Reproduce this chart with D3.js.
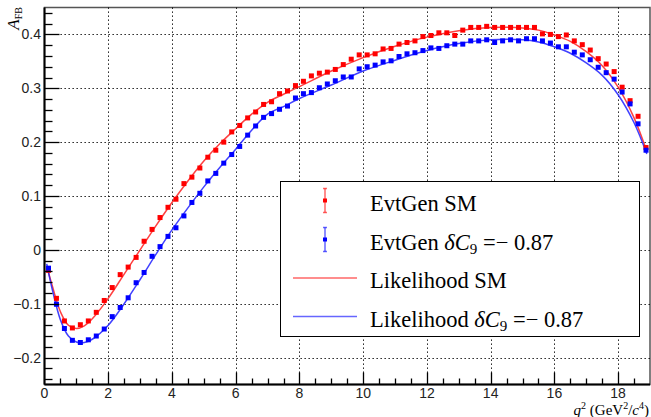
<!DOCTYPE html>
<html>
<head>
<meta charset="utf-8">
<script src="https://cdn.jsdelivr.net/npm/d3@7/dist/d3.min.js"></script>
<style>
  body { margin: 0; background: #fff; }
  svg { display: block; }
</style>
</head>
<body>
<div id="afb-chart"></div>
<script>
// bin centres in q^2 (GeV^2/c^4)
const q2Bins = [0.125, 0.375, 0.625, 0.875, 1.125, 1.375, 1.625, 1.875, 2.125, 2.375,
  2.625, 2.875, 3.125, 3.375, 3.625, 3.875, 4.125, 4.375, 4.625, 4.875,
  5.125, 5.375, 5.625, 5.875, 6.125, 6.375, 6.625, 6.875, 7.125, 7.375,
  7.625, 7.875, 8.125, 8.375, 8.625, 8.875, 9.125, 9.375, 9.625, 9.875,
  10.125, 10.375, 10.625, 10.875, 11.125, 11.375, 11.625, 11.875, 12.125, 12.375,
  12.625, 12.875, 13.125, 13.375, 13.625, 13.875, 14.125, 14.375, 14.625, 14.875,
  15.125, 15.375, 15.625, 15.875, 16.125, 16.375, 16.625, 16.875, 17.125, 17.375,
  17.625, 17.875, 18.125, 18.375, 18.625, 18.875];

// EvtGen SM points
const evtGenSM = [-0.038, -0.090, -0.132, -0.145, -0.139, -0.132, -0.116, -0.094, -0.070, -0.046,
  -0.032, -0.014, 0.016, 0.038, 0.060, 0.079, 0.094, 0.123, 0.135, 0.152,
  0.172, 0.185, 0.200, 0.219, 0.231, 0.245, 0.256, 0.270, 0.275, 0.290,
  0.295, 0.305, 0.313, 0.323, 0.328, 0.330, 0.335, 0.344, 0.354, 0.362,
  0.362, 0.364, 0.373, 0.374, 0.382, 0.385, 0.388, 0.396, 0.398, 0.403,
  0.403, 0.398, 0.408, 0.413, 0.413, 0.415, 0.413, 0.413, 0.413, 0.413,
  0.413, 0.413, 0.401, 0.400, 0.396, 0.399, 0.388, 0.381, 0.371, 0.355,
  0.345, 0.331, 0.302, 0.277, 0.248, 0.190];

// EvtGen dC9 = -0.87 points
const evtGenC9 = [-0.034, -0.101, -0.146, -0.168, -0.172, -0.167, -0.160, -0.147, -0.124, -0.107,
  -0.089, -0.061, -0.042, -0.012, 0.006, 0.025, 0.041, 0.063, 0.088, 0.105,
  0.128, 0.142, 0.161, 0.177, 0.192, 0.213, 0.230, 0.246, 0.253, 0.261,
  0.267, 0.282, 0.290, 0.292, 0.301, 0.308, 0.314, 0.321, 0.321, 0.336,
  0.340, 0.343, 0.349, 0.351, 0.359, 0.364, 0.366, 0.370, 0.375, 0.374,
  0.379, 0.382, 0.382, 0.388, 0.388, 0.390, 0.385, 0.388, 0.390, 0.388,
  0.392, 0.392, 0.388, 0.384, 0.377, 0.377, 0.367, 0.362, 0.353, 0.339,
  0.329, 0.317, 0.293, 0.271, 0.234, 0.185];

// likelihood curves
const likeQ2 = [0.07, 0.25, 0.5, 0.75, 1.0, 1.25, 1.5, 2.0, 2.5, 3.0,
  3.5, 4.0, 4.5, 5.0, 5.5, 6.0, 6.5, 7.0, 7.5, 8.0,
  9.0, 10.0, 11.0, 12.0, 13.0, 14.0, 15.0, 15.5, 16.0, 16.5,
  17.0, 17.5, 18.0, 18.5, 18.9];
const likeSM = [-0.030, -0.068, -0.115, -0.140, -0.146, -0.141, -0.128, -0.090, -0.045, 0.000,
  0.045, 0.088, 0.128, 0.165, 0.197, 0.225, 0.252, 0.274, 0.289, 0.303,
  0.332, 0.357, 0.378, 0.395, 0.407, 0.413, 0.412, 0.408, 0.399, 0.387,
  0.368, 0.342, 0.302, 0.245, 0.183];
const likeC9 = [-0.026, -0.075, -0.130, -0.160, -0.171, -0.172, -0.166, -0.140, -0.100, -0.055,
  -0.008, 0.037, 0.078, 0.117, 0.153, 0.187, 0.222, 0.252, 0.266, 0.281,
  0.306, 0.332, 0.352, 0.370, 0.383, 0.390, 0.390, 0.386, 0.377, 0.365,
  0.347, 0.324, 0.288, 0.236, 0.178];

const xMajor = [2, 4, 6, 8, 10, 12, 14, 16, 18];
const yMajor = [-0.2, -0.1, 0, 0.1, 0.2, 0.3, 0.4];
const xLabels = [0, 2, 4, 6, 8, 10, 12, 14, 16, 18];

const width = 651, height = 417;
const svg = d3.select('#afb-chart').append('svg')
    .attr('width', width).attr('height', height)
    .style('font-family', '"Liberation Sans", Arial, sans-serif');

const x = d3.scaleLinear().domain([0, 19]).range([44.5, 650]);
const y = d3.scaleLinear().domain([-0.25, 0.45]).range([384.5, 7.5]);

// frame
svg.append('rect')
    .attr('x', x(0)).attr('y', y(0.45))
    .attr('width', x(19) - x(0)).attr('height', y(-0.25) - y(0.45))
    .attr('fill', 'none').attr('stroke', '#555').attr('stroke-width', 1.5);

// dotted grid
const grid = svg.append('g').attr('stroke', '#000').attr('stroke-width', 1)
    .attr('stroke-dasharray', '1.3,2.7');
grid.selectAll('.gx').data(xMajor).join('line')
    .attr('x1', d => Math.round(x(d)) + 0.5).attr('x2', d => Math.round(x(d)) + 0.5)
    .attr('y1', y(0.45)).attr('y2', y(-0.25));
grid.selectAll('.gy').data(yMajor).join('line')
    .attr('x1', x(0)).attr('x2', x(19))
    .attr('y1', d => Math.round(y(d)) + 0.5).attr('y2', d => Math.round(y(d)) + 0.5);

// legend box (covers the grid)
const leg = svg.append('g');
leg.append('rect')
    .attr('x', 280.5).attr('y', 181.5).attr('width', 359).attr('height', 155)
    .attr('fill', '#fff').attr('stroke', '#000').attr('stroke-width', 1);

// curves
const line = d3.line()
    .x((d, i) => x(likeQ2[i]))
    .y(d => y(d))
    .curve(d3.curveCatmullRom);
svg.append('path').datum(likeSM)
    .attr('fill', 'none').attr('stroke', '#ff2020').attr('stroke-opacity', 0.85)
    .attr('stroke-width', 1.5).attr('d', line);
svg.append('path').datum(likeC9)
    .attr('fill', 'none').attr('stroke', '#2020ff').attr('stroke-opacity', 0.85)
    .attr('stroke-width', 1.5).attr('d', line);

// points
const ms = 5;
svg.append('g').selectAll('rect').data(evtGenSM).join('rect')
    .attr('x', (d, i) => x(q2Bins[i]) - ms / 2).attr('y', d => y(d) - ms / 2)
    .attr('width', ms).attr('height', ms).attr('fill', '#ff0000');
svg.append('g').selectAll('rect').data(evtGenC9).join('rect')
    .attr('x', (d, i) => x(q2Bins[i]) - ms / 2).attr('y', d => y(d) - ms / 2)
    .attr('width', ms).attr('height', ms).attr('fill', '#0000ff');

// axes (ROOT style ticks inside)
const ax = svg.append('g').attr('stroke', '#000');
ax.append('line').attr('x1', x(0)).attr('x2', x(0)).attr('y1', y(0.45)).attr('y2', y(-0.25))
    .attr('stroke-width', 2);
ax.append('line').attr('x1', x(0)).attr('x2', x(19)).attr('y1', y(-0.25)).attr('y2', y(-0.25))
    .attr('stroke-width', 2);

// y ticks every 0.02, major every 0.1
for (let i = -12; i <= 22; i++) {
    const yy = Math.round(y(i / 50)) + 0.5;
    const len = (i % 5 === 0) ? 15 : 8;
    ax.append('line').attr('x1', x(0)).attr('x2', x(0) + len)
        .attr('y1', yy).attr('y2', yy).attr('stroke-width', 1.3);
}
// x ticks every 0.5, major every 2
for (let i = 1; i <= 37; i++) {
    const xx = Math.round(x(i / 2)) + 0.5;
    const len = (i % 4 === 0) ? 12 : 6;
    ax.append('line').attr('x1', xx).attr('x2', xx)
        .attr('y1', y(-0.25)).attr('y2', y(-0.25) - len).attr('stroke-width', 1.3);
}

const fmtY = d => d3.format('.1f')(d).replace('-', '\u2212');
svg.append('g').selectAll('text').data(yMajor).join('text')
    .attr('x', 41).attr('y', d => y(d)).attr('dy', '0.36em')
    .attr('text-anchor', 'end').attr('font-size', 14).attr('fill', '#222')
    .text(d => d === 0 ? '0' : fmtY(d));
svg.append('g').selectAll('text').data(xLabels).join('text')
    .attr('x', d => x(d)).attr('y', 398)
    .attr('text-anchor', 'middle').attr('font-size', 14).attr('fill', '#222')
    .text(d => d);

// axis titles
const serif = '"Liberation Serif", "Times New Roman", serif';
const yt = svg.append('text')
    .attr('transform', 'translate(19,7) rotate(-90)')
    .attr('text-anchor', 'end').attr('font-family', serif).attr('font-size', 17);
yt.append('tspan').attr('font-style', 'italic').text('A');
yt.append('tspan').attr('font-size', 10).attr('dy', 3).attr('font-family', serif).text('FB');

const xt = svg.append('text')
    .attr('x', 649).attr('y', 415).attr('text-anchor', 'end')
    .attr('font-family', serif).attr('font-size', 15);
xt.append('tspan').attr('font-style', 'italic').text('q');
xt.append('tspan').attr('font-size', 10).attr('dy', -6).text('2');
xt.append('tspan').attr('dy', 6).text(' (GeV');
xt.append('tspan').attr('font-size', 10).attr('dy', -6).text('2');
xt.append('tspan').attr('dy', 6).text('/');
xt.append('tspan').attr('font-style', 'italic').text('c');
xt.append('tspan').attr('font-size', 10).attr('dy', -6).text('4');
xt.append('tspan').attr('dy', 6).text(')');

// legend entries
const legRows = [
    {label: 'EvtGen SM', c9: false, kind: 'pt', color: '#ff0000', y: 200.5},
    {label: 'EvtGen ', c9: true, kind: 'pt', color: '#0000ff', y: 239.5},
    {label: 'Likelihood SM', c9: false, kind: 'ln', color: '#ff0000', y: 278},
    {label: 'Likelihood ', c9: true, kind: 'ln', color: '#0000ff', y: 316.5}
];
legRows.forEach(r => {
    if (r.kind === 'pt') {
        leg.append('line').attr('x1', 325).attr('x2', 325).attr('y1', r.y - 12).attr('y2', r.y + 12)
            .attr('stroke', r.color).attr('stroke-opacity', 0.6).attr('stroke-width', 1.5);
        [-12, 12].forEach(o => leg.append('line')
            .attr('x1', 323).attr('x2', 327).attr('y1', r.y + o).attr('y2', r.y + o)
            .attr('stroke', r.color).attr('stroke-opacity', 0.6).attr('stroke-width', 1.5));
        leg.append('rect').attr('x', 323).attr('y', r.y - 2).attr('width', 4).attr('height', 4)
            .attr('fill', r.color);
    } else {
        leg.append('line').attr('x1', 293).attr('x2', 357).attr('y1', r.y).attr('y2', r.y)
            .attr('stroke', r.color).attr('stroke-opacity', 0.6).attr('stroke-width', 1.5);
    }
    const t = leg.append('text').attr('x', 370).attr('y', r.y + 10)
        .attr('font-family', serif).attr('font-size', 22.5).attr('fill', '#000');
    t.append('tspan').text(r.label);
    if (r.c9) {
        t.append('tspan').attr('font-style', 'italic').text('\u03b4C');
        t.append('tspan').attr('font-size', 15).attr('dy', 4).text('9');
        t.append('tspan').attr('dy', -4).text(' =\u2212 0.87');
    }
});
</script>
</body>
</html>
